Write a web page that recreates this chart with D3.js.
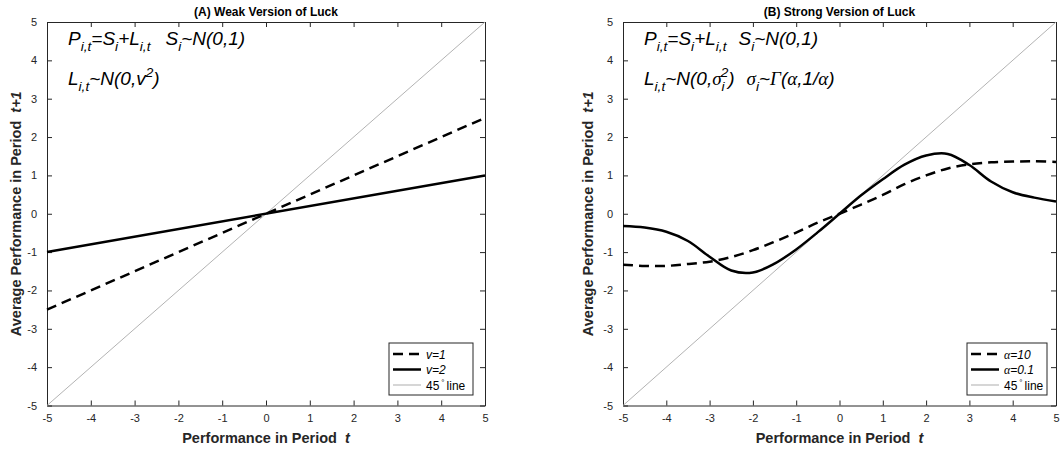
<!DOCTYPE html>
<html>
<head>
<meta charset="utf-8">
<script src="https://cdn.jsdelivr.net/npm/d3@7"></script>
<style>
  body { margin: 0; background: #fff; }
  svg { display: block; }
</style>
</head>
<body>
<script>
// ---- data ----
const tickVals = [-5, -4, -3, -2, -1, 0, 1, 2, 3, 4, 5];

// panel A: straight lines through the origin
const weakX = [-5, 5];
const weakV1 = [-2.5, 2.5];   // v=1 (dashed)
const weakV2 = [-1, 1];       // v=2 (solid)

// 45 degree reference line (both panels)
const diagX = [-5, 5];
const diagY = [-5, 5];

// panel B: estimated at half-unit steps
const strongX = [-5, -4.5, -4, -3.5, -3, -2.5, -2, -1.5, -1, -0.5, 0, 0.5, 1, 1.5, 2, 2.5, 3, 3.5, 4, 4.5, 5];
const strongA10 = [-1.33, -1.36, -1.36, -1.31, -1.25, -1.13, -0.95, -0.73, -0.49, -0.23, 0, 0.24, 0.49, 0.77, 1.0, 1.18, 1.29, 1.34, 1.36, 1.37, 1.35];
const strongA01 = [-0.32, -0.36, -0.47, -0.71, -1.12, -1.48, -1.53, -1.30, -0.93, -0.48, 0, 0.48, 0.90, 1.28, 1.52, 1.56, 1.27, 0.84, 0.56, 0.42, 0.32];

const W = 1062, H = 453;
const axisCol = '#262626';
const sans = '"Liberation Sans", Arial, Helvetica, sans-serif';
const serif = '"Liberation Serif", "Times New Roman", serif';

const svg = d3.select('body').append('svg')
  .attr('width', W)
  .attr('height', H);

// draw a line of text made of pieces (sub/superscripts, greek in serif)
function rich(g, x, y, segs, size) {
  const t = g.append('text')
    .attr('x', x)
    .attr('y', y)
    .attr('font-family', sans)
    .attr('font-size', size)
    .attr('font-style', 'italic')
    .attr('fill', '#000');
  let cur = 0;
  segs.forEach(s => {
    const off = s.sub ? size * 0.3 : s.sup ? -size * 0.42 : 0;
    const ts = t.append('tspan')
      .attr('dy', off - cur)
      .attr('font-size', (s.sub || s.sup) ? size * 0.72 : size)
      .text(s.t);
    if (s.greek) ts.attr('font-family', serif);
    if (s.dx) ts.attr('dx', s.dx);
    cur = off;
  });
  return t;
}

function panel(cfg) {
  const x = d3.scaleLinear().domain([-5, 5]).range([cfg.left, cfg.right]);
  const y = d3.scaleLinear().domain([-5, 5]).range([cfg.bottom, cfg.top]);
  const g = svg.append('g');

  // axes, ticks pointing inwards on all four sides
  const tk = 5;
  const ax = [
    { a: d3.axisBottom(x), t: `translate(0,${cfg.bottom})`, lab: true, pad: 9 },
    { a: d3.axisTop(x), t: `translate(0,${cfg.top})`, lab: false, pad: 9 },
    { a: d3.axisLeft(y), t: `translate(${cfg.left},0)`, lab: true, pad: 10 },
    { a: d3.axisRight(y), t: `translate(${cfg.right},0)`, lab: false, pad: 9 }
  ];
  ax.forEach(d => {
    d.a.tickValues(tickVals)
      .tickSizeInner(-tk)
      .tickSizeOuter(0)
      .tickPadding(d.pad)
      .tickFormat(d.lab ? (v => String(v)) : '');
    const sel = g.append('g')
      .attr('transform', d.t)
      .call(d.a);
    sel.selectAll('path, line').attr('stroke', axisCol).attr('stroke-width', 1);
    sel.selectAll('text')
      .attr('fill', axisCol)
      .attr('font-family', sans)
      .attr('font-size', 11);
  });

  // title
  g.append('text')
    .attr('x', (cfg.left + cfg.right) / 2)
    .attr('y', 16)
    .attr('text-anchor', 'middle')
    .attr('font-family', sans)
    .attr('font-weight', 'bold')
    .attr('font-size', 12)
    .attr('fill', '#000')
    .text(cfg.title);

  // axis labels
  const xl = g.append('text')
    .attr('x', (cfg.left + cfg.right) / 2)
    .attr('y', 443)
    .attr('text-anchor', 'middle')
    .attr('font-family', sans)
    .attr('font-weight', 'bold')
    .attr('font-size', 14.5)
    .attr('fill', axisCol);
  xl.append('tspan').text('Performance in Period ');
  xl.append('tspan').attr('font-style', 'italic').attr('dx', 4).text('t');

  const yl = g.append('text')
    .attr('transform', `translate(${cfg.ylabX},${(cfg.top + cfg.bottom) / 2}) rotate(-90)`)
    .attr('text-anchor', 'middle')
    .attr('font-family', sans)
    .attr('font-weight', 'bold')
    .attr('font-size', 14.5)
    .attr('fill', axisCol);
  yl.append('tspan').text('Average Performance in Period ');
  yl.append('tspan').attr('font-style', 'italic').attr('dx', 4).text('t+1');

  // series
  const plot = g.append('g');
  const mk = (xs, ys, curve) => d3.line()
    .x((d, i) => x(xs[i]))
    .y(d => y(d))
    .curve(curve || d3.curveLinear)(ys);

  plot.append('path')
    .attr('d', mk(diagX, diagY))
    .attr('fill', 'none')
    .attr('stroke', '#b3b3b3')
    .attr('stroke-width', 1);

  cfg.series.forEach(s => {
    plot.append('path')
      .attr('d', mk(s.xs, s.ys, s.curve))
      .attr('fill', 'none')
      .attr('stroke', '#000')
      .attr('stroke-width', 2.5)
      .attr('stroke-dasharray', s.dash ? '10,6' : null);
  });

  // formulas
  cfg.formula1.forEach((line, i) => rich(g, cfg.left + 21, 45 + i * 40, line, 19));

  // legend
  const lg = g.append('g');
  const lw = cfg.legW, lh = 52;
  const lx = cfg.right - cfg.legGap - lw, ly = 343;
  lg.append('rect')
    .attr('x', lx).attr('y', ly)
    .attr('width', lw).attr('height', lh)
    .attr('fill', '#fff')
    .attr('stroke', axisCol)
    .attr('stroke-width', 1);
  const rows = cfg.series.map(s => ({ dash: s.dash, label: s.label, col: '#000', w: 2.5 }))
    .concat([{ dash: false, label: 'deg', col: '#c8c8c8', w: 1.5 }]);
  rows.forEach((r, i) => {
    const cy = ly + 11 + i * 15.5;
    lg.append('line')
      .attr('x1', lx + 4).attr('x2', lx + cfg.sampW)
      .attr('y1', cy).attr('y2', cy)
      .attr('stroke', r.col)
      .attr('stroke-width', r.w)
      .attr('stroke-dasharray', r.dash ? '10,6' : null);
    const tx = lx + cfg.sampW + 5, ty = cy + 4.5;
    if (r.label === 'deg') {
      const t = lg.append('text')
        .attr('x', tx).attr('y', ty)
        .attr('font-family', sans)
        .attr('font-size', 12)
        .attr('fill', '#000');
      t.append('tspan').text('45');
      t.append('tspan').attr('dy', -5).attr('dx', 2).attr('font-size', 8).text('°');
      t.append('tspan').attr('dy', 5).attr('dx', 2).text('line');
    } else {
      rich(lg, tx, ty, r.label, 12);
    }
  });
}

panel({
  left: 47, right: 485, top: 22, bottom: 405.5, ylabX: 21,
  title: '(A) Weak Version of Luck',
  legW: 84, legGap: 12, sampW: 32,
  series: [
    { xs: weakX, ys: weakV1, dash: true, label: [{ t: 'v=1' }] },
    { xs: weakX, ys: weakV2, dash: false, label: [{ t: 'v=2' }] }
  ],
  formula1: [
    [{ t: 'P' }, { t: 'i,t', sub: true }, { t: '=S' }, { t: 'i', sub: true }, { t: '+L' }, { t: 'i,t', sub: true },
     { t: 'S', dx: 15 }, { t: 'i', sub: true }, { t: '~N(0,1)' }],
    [{ t: 'L' }, { t: 'i,t', sub: true }, { t: '~N(0,v' }, { t: '2', sup: true }, { t: ')' }]
  ]
});

panel({
  left: 623, right: 1056, top: 22, bottom: 405.5, ylabX: 593,
  title: '(B) Strong Version of Luck',
  legW: 80, legGap: 9, sampW: 32,
  series: [
    { xs: strongX, ys: strongA10, dash: true, curve: d3.curveCatmullRom.alpha(0.5), label: [{ t: 'α', greek: true }, { t: '=10' }] },
    { xs: strongX, ys: strongA01, dash: false, curve: d3.curveCatmullRom.alpha(0.5), label: [{ t: 'α', greek: true }, { t: '=0.1' }] }
  ],
  formula1: [
    [{ t: 'P' }, { t: 'i,t', sub: true }, { t: '=S' }, { t: 'i', sub: true }, { t: '+L' }, { t: 'i,t', sub: true },
     { t: 'S', dx: 12 }, { t: 'i', sub: true }, { t: '~N(0,1)' }],
    [{ t: 'L' }, { t: 'i,t', sub: true }, { t: '~N(0,' }, { t: 'σ', greek: true }, { t: 'i', sub: true }, { t: '2', sup: true, dx: -4 },
     { t: ')' }, { t: 'σ', greek: true, dx: 12 }, { t: 'i', sub: true }, { t: '~' }, { t: 'Γ', greek: true }, { t: '(' },
     { t: 'α', greek: true }, { t: ',1/' }, { t: 'α', greek: true }, { t: ')' }]
  ]
});
</script>
</body>
</html>
